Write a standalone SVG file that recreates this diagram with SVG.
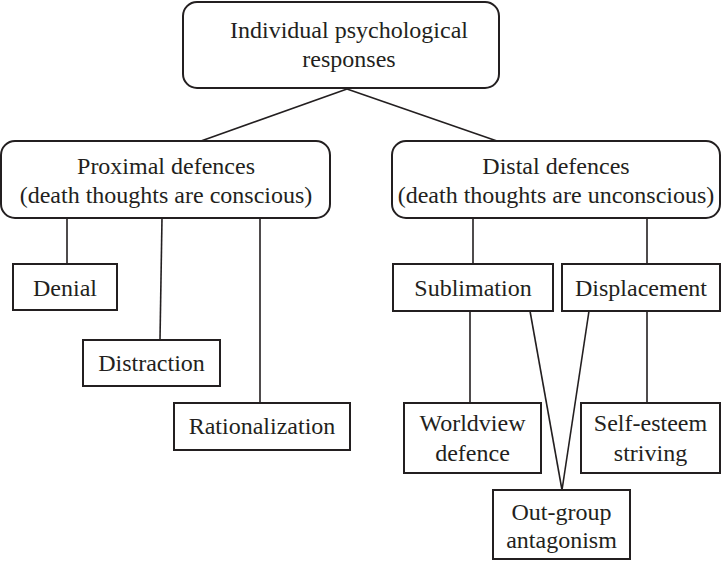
<svg xmlns="http://www.w3.org/2000/svg" width="722" height="561" viewBox="0 0 722 561">
<style>
.box{fill:#fff;stroke:#231f20;stroke-width:2}
.ln{stroke:#231f20;stroke-width:1.6;fill:none}
text{font-family:'Liberation Serif','Times New Roman','DejaVu Serif',serif;font-size:24px;fill:#231f20;text-anchor:middle}
</style>
<rect width="722" height="561" fill="#fff"/>
<g id="connectors">
<line class="ln" x1="347" y1="89" x2="201" y2="141"/>
<line class="ln" x1="347" y1="89" x2="497" y2="141"/>
<line class="ln" x1="67" y1="218" x2="67" y2="264"/>
<line class="ln" x1="162" y1="218" x2="160" y2="340"/>
<line class="ln" x1="260" y1="218" x2="260" y2="403"/>
<line class="ln" x1="473" y1="218" x2="473" y2="264"/>
<line class="ln" x1="647" y1="218" x2="647" y2="264"/>
<line class="ln" x1="470" y1="311" x2="470" y2="403"/>
<line class="ln" x1="647" y1="311" x2="647" y2="403"/>
<line class="ln" x1="530" y1="311" x2="562" y2="490"/>
<line class="ln" x1="589" y1="311" x2="562" y2="490"/>
</g>
<g id="root">
<rect class="box" x="183" y="2" width="316" height="86" rx="14"/>
<text x="349" y="38">Individual psychological</text>
<text x="349" y="67">responses</text>
</g>
<g id="proximal">
<rect class="box" x="1" y="141" width="329" height="77" rx="14"/>
<text x="166" y="174">Proximal defences</text>
<text x="166" y="203">(death thoughts are conscious)</text>
</g>
<g id="distal">
<rect class="box" x="392" y="141" width="328" height="77" rx="14"/>
<text x="556" y="174">Distal defences</text>
<text x="556" y="203">(death thoughts are unconscious)</text>
</g>
<g id="denial">
<rect class="box" x="13" y="264" width="104" height="46"/>
<text x="65" y="296">Denial</text>
</g>
<g id="distraction">
<rect class="box" x="83" y="340" width="137" height="46"/>
<text x="151.5" y="371">Distraction</text>
</g>
<g id="rationalization">
<rect class="box" x="174" y="403" width="176" height="47"/>
<text x="262" y="434">Rationalization</text>
</g>
<g id="sublimation">
<rect class="box" x="393" y="264" width="160" height="47"/>
<text x="473" y="296">Sublimation</text>
</g>
<g id="displacement">
<rect class="box" x="562" y="264" width="158" height="47"/>
<text x="641" y="296">Displacement</text>
</g>
<g id="worldview">
<rect class="box" x="404" y="403" width="137" height="70"/>
<text x="472.5" y="431">Worldview</text>
<text x="472.5" y="461">defence</text>
</g>
<g id="selfesteem">
<rect class="box" x="581" y="403" width="139" height="70"/>
<text x="650.5" y="431">Self-esteem</text>
<text x="650.5" y="461">striving</text>
</g>
<g id="outgroup">
<rect class="box" x="493" y="490" width="137" height="69"/>
<text x="561.5" y="520">Out-group</text>
<text x="561.5" y="548">antagonism</text>
</g>
</svg>
